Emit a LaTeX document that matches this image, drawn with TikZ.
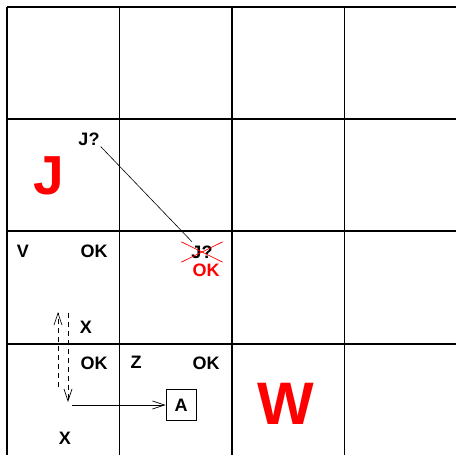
\documentclass[tikz,border=0pt]{standalone}
\usepackage{fontspec}
\setmainfont{Liberation Sans}
\usetikzlibrary{arrows.meta}
\tikzset{
  gridline/.style={
    draw=black,
    line width=1.6pt
  },
  celllabel/.style={
    inner sep=1pt,
    font=\bfseries\fontsize{18}{20}\selectfont
  },
  biglabel/.style={
    inner sep=0pt,
    text=red,
    font=\bfseries\fontsize{55}{60}\selectfont
  },
  boxlabel/.style={
    draw=black,
    line width=0.8pt,
    minimum width=30pt,
    minimum height=31pt,
    inner sep=0pt,
    font=\bfseries\fontsize{18}{20}\selectfont
  },
  dasharrow/.style={
    -{Straight Barb[length=12pt,width=8pt]},
    dashed,
    dash pattern=on 5pt off 4pt,
    line width=0.7pt
  },
  solidarrow/.style={
    -{Straight Barb[length=12pt,width=8pt]},
    line width=0.7pt
  }
}

\begin{document}
\begin{tikzpicture}[x=1pt,y=-1pt]
  \useasboundingbox (0,0) rectangle (456,455);
  \fill[white] (0,0) rectangle (456,455);
  % board
  \foreach \gx in {7,119.5,232,344.5}
    \draw[gridline] (\gx,7) -- (\gx,456);
  \foreach \gy in {7,119,231,344}
    \draw[gridline] (7,\gy) -- (457,\gy);
  % labels
  \node[biglabel] (wumpj) at (49,176) {J};
  \node[biglabel, font=\bfseries\fontsize{60}{66}\selectfont] (wumpw) at (286,404) {W};
  \node[celllabel] (jq) at (89,139) {J?};
  \node[celllabel, minimum width=41pt, minimum height=20pt, inner sep=0pt] (jqx) at (202,252) {J?};
  \node[celllabel, text=red] (okred) at (206,270) {OK};
  \node[celllabel] (v) at (23,251) {V};
  \node[celllabel] (oka) at (94,251) {OK};
  \node[celllabel] (xa) at (86,327) {X};
  \node[celllabel] (okb) at (94,363) {OK};
  \node[celllabel] (z) at (136,362) {Z};
  \node[celllabel] (okc) at (206,363) {OK};
  \node[celllabel] (xb) at (65,438) {X};
  \node[boxlabel] (a) at (181,405) {A};
  % moves
  \coordinate (upstart) at (58,387);
  \coordinate (upend) at (58,312);
  \coordinate (downstart) at (68,313);
  \coordinate (downend) at (68,402);
  \coordinate (rightstart) at (72,405);
  \draw[line width=0.6pt] (jq.south east) -- ([xshift=-10pt]jqx.north);
  \draw[red, line width=0.7pt] (jqx.north west) -- (jqx.south east);
  \draw[red, line width=0.7pt] (jqx.south west) -- (jqx.north east);
  \draw[dasharrow] (upstart) -- (upend);
  \draw[dasharrow] (downstart) -- (downend);
  \draw[solidarrow] (rightstart) -- (a.west);
\end{tikzpicture}
\end{document}
